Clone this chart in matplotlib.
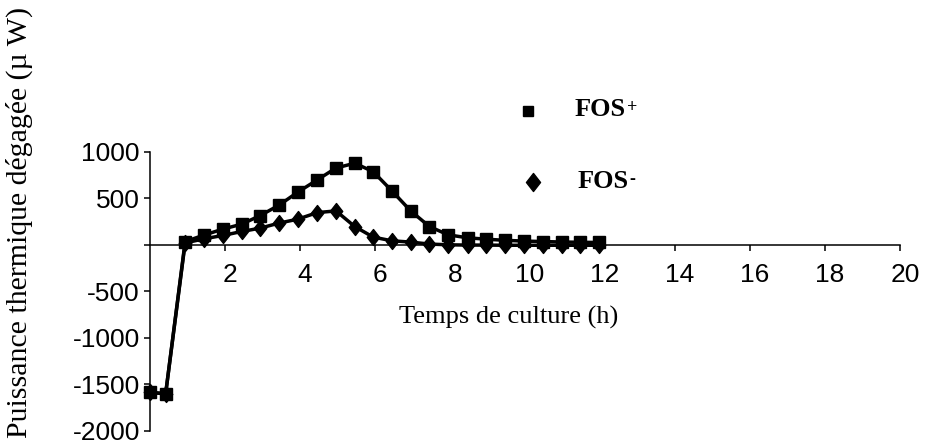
import matplotlib
matplotlib.use("Agg")
import matplotlib.pyplot as plt
from matplotlib.path import Path
import matplotlib.transforms as mtransforms

# Culture time (h) and heat output (µW) for both media
temps = [0.0, 0.43, 0.95, 1.45, 1.95, 2.46, 2.95, 3.45, 3.95, 4.47, 4.97, 5.47,
         5.96, 6.46, 6.96, 7.46, 7.96, 8.48, 8.98, 9.48, 9.97, 10.48, 10.98, 11.47, 11.97]
fos_plus = [-1585, -1600, 35, 104, 168, 222, 314, 425, 565, 697, 825, 876,
            786, 579, 364, 196, 107, 75, 60, 48, 40, 35, 30, 27, 25]
fos_minus = [-1585, -1600, 20, 64, 100, 143, 179, 233, 275, 346, 364, 196,
             83, 43, 29, 8, 0, -3, -3, -5, -5, -5, -5, -5, -5]

x_ticks = [2, 4, 6, 8, 10, 12, 14, 16, 18, 20]
y_ticks = [1000, 500, 0, -500, -1000, -1500, -2000]
y_tick_labels = ["1000", "500", "", "-500", "-1000", "-1500", "-2000"]

W, H, DPI = 931, 447, 100
fig = plt.figure(figsize=(W / DPI, H / DPI), dpi=DPI)
fig.patch.set_facecolor("white")

left_px, right_px = 149.5, 900
top_px, bot_px = 151.7, 431
ax = fig.add_axes([left_px / W, 1 - bot_px / H,
                   (right_px - left_px) / W, (bot_px - top_px) / H])
ax.set_xlim(0, 20)
ax.set_ylim(-2000, 1000)

diamond = Path([(0, 1), (0.78, 0), (0, -1), (-0.78, 0), (0, 1)],
               [Path.MOVETO, Path.LINETO, Path.LINETO, Path.LINETO, Path.CLOSEPOLY])

ax.plot(temps, fos_minus, color="black", lw=2.5, marker=diamond, ms=11.5,
        clip_on=False, zorder=3)
ax.plot(temps, fos_plus, color="black", lw=2.5, marker="s", ms=8.7,
        clip_on=False, zorder=4)

for s in ("top", "right"):
    ax.spines[s].set_visible(False)
ax.spines["bottom"].set_position(("data", 0))
ax.spines["left"].set_linewidth(1.1)
ax.spines["bottom"].set_linewidth(1.1)

tick_font = dict(family="Liberation Sans", size=19)
ax.set_xticks(x_ticks)
ax.set_xticklabels([str(v) for v in x_ticks], **tick_font)
ax.set_yticks(y_ticks)
ax.set_yticklabels(y_tick_labels, **tick_font)
ax.tick_params(axis="x", direction="out", length=4, width=1.1, pad=9)
ax.tick_params(axis="y", direction="out", length=4, width=1.1, pad=3)
shift = mtransforms.ScaledTranslation(5 / DPI, 0, fig.dpi_scale_trans)
for lab in ax.get_xticklabels():
    lab.set_transform(lab.get_transform() + shift)

serif = "Liberation Serif"
fig.text(509 / W, 1 - 317 / H, "Temps de culture (h)", family=serif,
         size=19, ha="center", va="center")
fig.text(19 / W, 1 - 222 / H, "Puissance thermique dégagée (µ W)", family=serif,
         size=21.5, ha="center", va="center", rotation=90)

# Legend drawn by hand
fig.lines.append(plt.Line2D([528 / W], [1 - 111 / H], marker="s", ms=7.5,
                            color="black", transform=fig.transFigure))
fig.lines.append(plt.Line2D([533 / W], [1 - 182 / H], marker=diamond, ms=13,
                            color="black", transform=fig.transFigure))

fig.canvas.draw()
renderer = fig.canvas.get_renderer()
for label, sup, x0, yc in (("FOS", "+", 575, 110), ("FOS", "-", 578, 182)):
    t = fig.text(x0 / W, 1 - yc / H, label, family=serif, weight="bold",
                 size=19, ha="left", va="center")
    bb = t.get_window_extent(renderer)
    fig.text(bb.x1 / W + 0.5 / W, (bb.y1 - 9) / H, sup, family=serif,
             weight="bold", size=13, ha="left", va="center")

fig.savefig("out.png", dpi=DPI, facecolor="white")
